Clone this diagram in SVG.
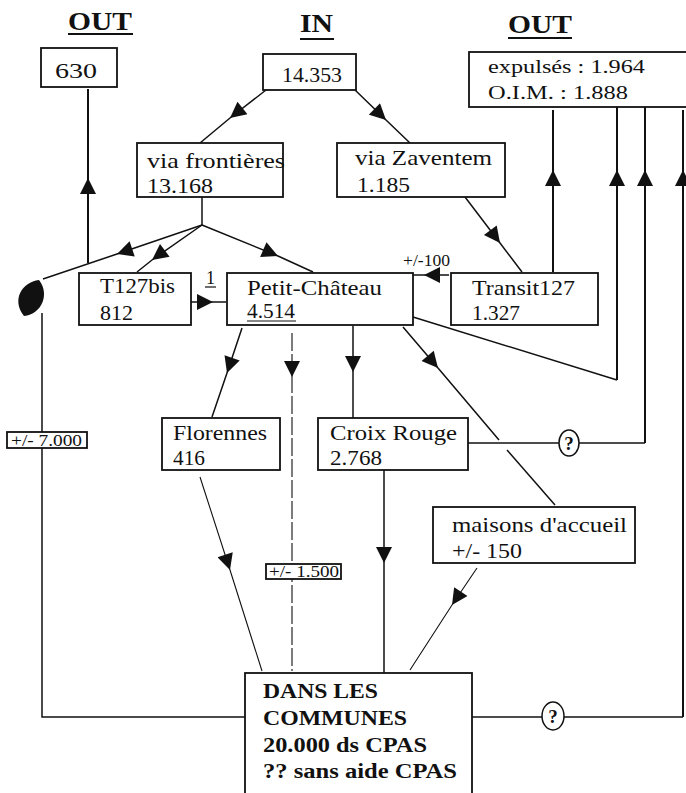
<svg xmlns="http://www.w3.org/2000/svg" width="686" height="793" viewBox="0 0 686 793">
<defs>
<style>
.bx{fill:#fff;stroke:#111;stroke-width:1.8}
.t{font-family:"Liberation Serif",serif;font-size:21px;fill:#111}
.ts{font-family:"Liberation Serif",serif;font-size:16px;fill:#111}
.tb{font-family:"Liberation Serif",serif;font-size:20px;font-weight:bold;fill:#111}
.h{font-family:"Liberation Serif",serif;font-size:26px;font-weight:bold;fill:#111}
.c{fill:none;stroke:#111;stroke-width:1.5}
.ct{fill:none;stroke:#111;stroke-width:1.1}
.cw{fill:none;stroke:#111;stroke-width:2}
.ar{marker-mid:url(#ah)}
</style>
<marker id="ah" viewBox="0 0 16 16" refX="16" refY="8" markerWidth="18" markerHeight="16" markerUnits="userSpaceOnUse" orient="auto">
<path d="M0,0 L16,8 L0,16 z" fill="#111"/>
</marker>
</defs>
<rect width="686" height="793" fill="#fff"/>

<g id="titles">
<text class="h" x="68" y="30" textLength="64" lengthAdjust="spacingAndGlyphs">OUT</text>
<line x1="68" y1="34" x2="133" y2="34" stroke="#111" stroke-width="2"/>
<text class="h" x="300" y="32" textLength="33" lengthAdjust="spacingAndGlyphs">IN</text>
<line x1="300" y1="39" x2="334" y2="39" stroke="#111" stroke-width="2"/>
<text class="h" x="508" y="33" textLength="64" lengthAdjust="spacingAndGlyphs">OUT</text>
<line x1="508" y1="38" x2="572" y2="38" stroke="#111" stroke-width="2"/>
</g>

<g id="connectors">
<path class="c ar" d="M266,90 L230,118 L200,143"/>
<path class="c ar" d="M355,90 L386,120 L410,143"/>
<path class="c" d="M202,197 L202,225"/>
<path class="c ar" d="M202,225 L117,254 L43,279"/>
<path class="c ar" d="M202,225 L152,260 L137,272"/>
<path class="c ar" d="M202,225 L278,256 L313,272"/>
<path class="cw ar" d="M88,263 L88,178 L88,89"/>
<path class="c ar" d="M191,302 L213,302 L226,302"/>
<path class="c ar" d="M465,197 L500,243 L522,272"/>
<path class="c ar" d="M449,275 L424,275 L413,275"/>
<path class="cw ar" d="M553,272 L553,170 L553,110"/>
<path class="c" d="M413,317 L617,380"/>
<path class="cw ar" d="M617,380 L617,170 L617,107"/>
<path class="c" d="M468,443 L645,443"/>
<path class="cw ar" d="M645,443 L645,170 L645,107"/>
<path class="c" d="M472,717 L683,717"/>
<path class="cw ar" d="M683,717 L683,170 L683,110"/>
<path class="c ar" d="M242,328 L227,373 L212,417"/>
<path class="ct ar" d="M292,333 L292,377 L292,671" stroke-dasharray="18 3"/>
<path class="c ar" d="M353,326 L353,372 L353,418"/>
<path class="c ar" d="M403,327 L438,368 L499,440"/>
<path class="c" d="M507,450 L555,505"/>
<path class="ct ar" d="M200,477 L230,570 L262,671"/>
<path class="c ar" d="M384,470 L384,563 L384,673"/>
<path class="ct ar" d="M477,568 L452,605 L410,670"/>
<path class="c" d="M42,313 L42,717 L245,717"/>
</g>

<g id="blob">
<path d="M39,280 C22,282 11,300 24,316 C42,314 50,294 39,280 Z" fill="#111"/>
</g>

<g id="n630">
<rect class="bx" x="41" y="48" width="76" height="39"/>
<text class="t" x="55" y="78" textLength="42" lengthAdjust="spacingAndGlyphs">630</text>
</g>

<g id="n14353">
<rect class="bx" x="263" y="54" width="93" height="36"/>
<text class="t" x="282" y="82" textLength="60" lengthAdjust="spacingAndGlyphs">14.353</text>
</g>

<g id="nout">
<rect class="bx" x="469" y="52" width="225" height="55"/>
<text class="t" x="488" y="73" style="font-size:19px" textLength="157" lengthAdjust="spacingAndGlyphs">expulsés : 1.964</text>
<text class="t" x="488" y="99" style="font-size:19px" textLength="140" lengthAdjust="spacingAndGlyphs">O.I.M. : 1.888</text>
</g>

<g id="nfront">
<rect class="bx" x="137" y="143" width="146" height="54"/>
<text class="t" x="147" y="168" textLength="138" lengthAdjust="spacingAndGlyphs">via frontières</text>
<text class="t" x="147" y="193" textLength="66" lengthAdjust="spacingAndGlyphs">13.168</text>
</g>

<g id="nzav">
<rect class="bx" x="337" y="143" width="168" height="54"/>
<text class="t" x="355" y="165" textLength="137" lengthAdjust="spacingAndGlyphs">via Zaventem</text>
<text class="t" x="357" y="192" textLength="53" lengthAdjust="spacingAndGlyphs">1.185</text>
</g>

<g id="nt127">
<rect class="bx" x="79" y="273" width="112" height="52"/>
<text class="t" x="100" y="293" textLength="75" lengthAdjust="spacingAndGlyphs">T127bis</text>
<text class="t" x="100" y="320" textLength="33" lengthAdjust="spacingAndGlyphs">812</text>
</g>

<g id="lbl1">
<text class="ts" x="206" y="284" style="font-size:18px">1</text>
<line x1="205" y1="287" x2="216" y2="287" stroke="#111" stroke-width="1.2"/>
</g>

<g id="npetit">
<rect class="bx" x="227" y="273" width="186" height="52"/>
<text class="t" x="247" y="295" textLength="135" lengthAdjust="spacingAndGlyphs">Petit-Château</text>
<text class="t" x="247" y="318" textLength="48" lengthAdjust="spacingAndGlyphs">4.514</text>
<line x1="247" y1="321" x2="296" y2="321" stroke="#111" stroke-width="1"/>
</g>

<g id="lbl100">
<text class="ts" x="403" y="266" textLength="47" lengthAdjust="spacingAndGlyphs">+/-100</text>
</g>

<g id="ntransit">
<rect class="bx" x="451" y="273" width="147" height="52"/>
<text class="t" x="472" y="295" textLength="103" lengthAdjust="spacingAndGlyphs">Transit127</text>
<text class="t" x="472" y="320" textLength="48" lengthAdjust="spacingAndGlyphs">1.327</text>
</g>

<g id="nflor">
<rect class="bx" x="162" y="418" width="118" height="52"/>
<text class="t" x="173" y="440" textLength="94" lengthAdjust="spacingAndGlyphs">Florennes</text>
<text class="t" x="173" y="465" textLength="32" lengthAdjust="spacingAndGlyphs">416</text>
</g>

<g id="ncroix">
<rect class="bx" x="318" y="418" width="150" height="52"/>
<text class="t" x="330" y="440" textLength="127" lengthAdjust="spacingAndGlyphs">Croix Rouge</text>
<text class="t" x="330" y="465" textLength="52" lengthAdjust="spacingAndGlyphs">2.768</text>
</g>

<g id="nmaisons">
<rect class="bx" x="433" y="507" width="202" height="56"/>
<text class="t" x="452" y="532" textLength="175" lengthAdjust="spacingAndGlyphs">maisons d'accueil</text>
<text class="t" x="452" y="558" textLength="70" lengthAdjust="spacingAndGlyphs">+/- 150</text>
</g>

<g id="lbl7000">
<rect class="bx" x="7" y="432" width="80" height="16" stroke-width="1.5"/>
<text class="ts" x="11" y="446" textLength="71" lengthAdjust="spacingAndGlyphs">+/- 7.000</text>
</g>

<g id="lbl1500">
<rect class="bx" x="266" y="564" width="75" height="15" stroke-width="1.5"/>
<text class="ts" x="269" y="577" textLength="70" lengthAdjust="spacingAndGlyphs">+/- 1.500</text>
</g>

<g id="q1">
<ellipse cx="569" cy="443" rx="10" ry="13" fill="#fff" stroke="#111" stroke-width="1.5"/>
<text class="ts" x="569" y="450" style="font-size:19px;font-weight:bold" text-anchor="middle">?</text>
</g>

<g id="q2">
<ellipse cx="553" cy="716" rx="11" ry="14" fill="#fff" stroke="#111" stroke-width="1.5"/>
<text class="ts" x="553" y="723" style="font-size:19px;font-weight:bold" text-anchor="middle">?</text>
</g>

<g id="ncommunes">
<rect class="bx" x="245" y="673" width="227" height="130"/>
<text class="tb" x="263" y="698" textLength="115" lengthAdjust="spacingAndGlyphs">DANS LES</text>
<text class="tb" x="263" y="725" textLength="144" lengthAdjust="spacingAndGlyphs">COMMUNES</text>
<text class="tb" x="263" y="752" textLength="164" lengthAdjust="spacingAndGlyphs">20.000 ds CPAS</text>
<text class="tb" x="263" y="778" textLength="194" lengthAdjust="spacingAndGlyphs">?? sans aide CPAS</text>
</g>
</svg>
